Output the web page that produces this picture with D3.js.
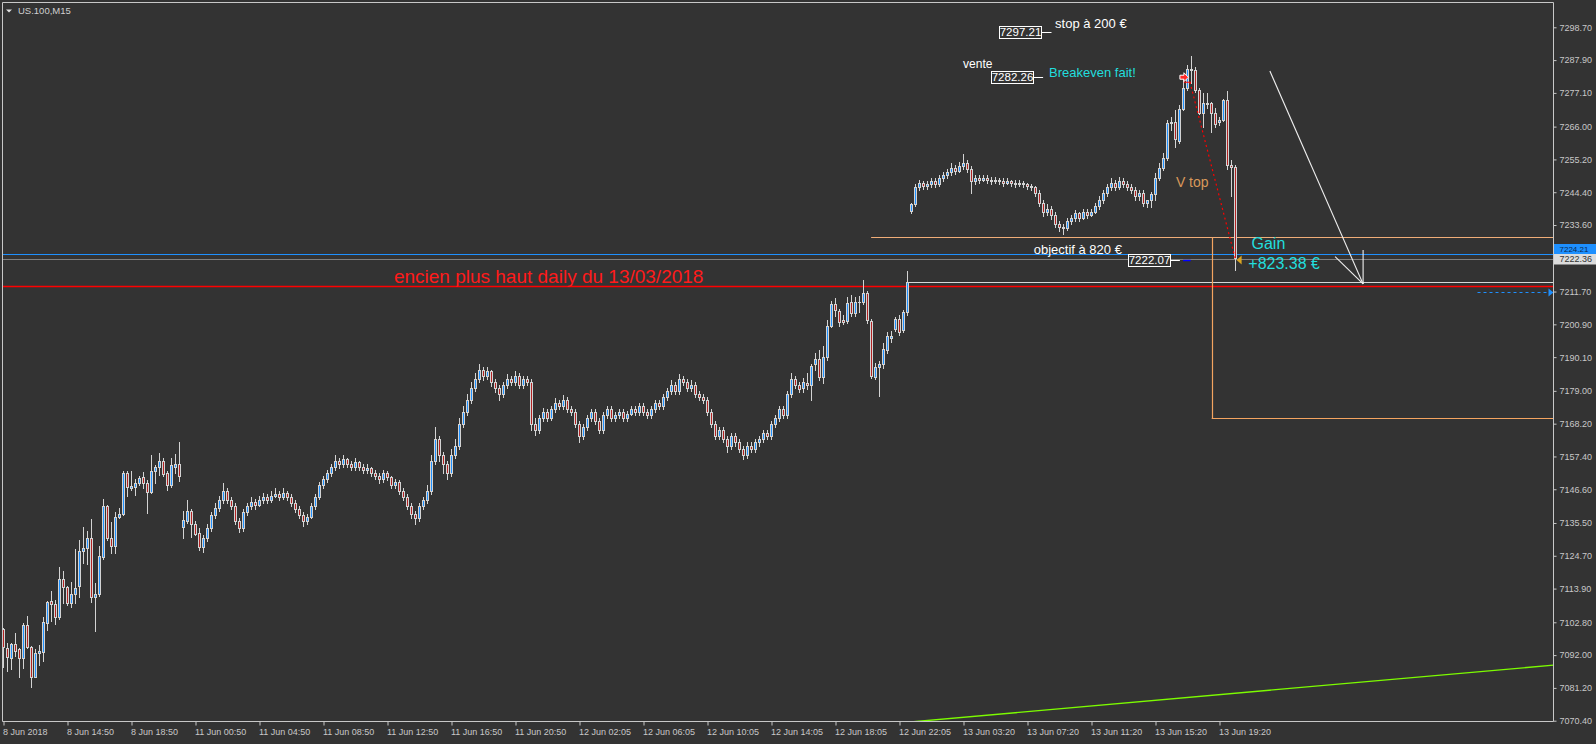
<!DOCTYPE html>
<html><head><meta charset="utf-8">
<script src="https://cdn.jsdelivr.net/npm/d3@7"></script>
<style>html,body{margin:0;padding:0;background:#333333;}svg{display:block;}</style>
</head><body>
<svg id="chart" width="1596" height="744"></svg>
<script>
// ---------------- DATA (US.100, M15 candles) ----------------
const opens = [
7100.5,7094.2,7091.1,7095.6,7093.9,7090.9,7101.8,7094.8,7084.9,7092.8,
7093.1,7102.5,7109.8,7108.8,7104.6,7117.0,7114.3,7109.3,7112.0,7114.8,
7126.4,7127.4,7130.5,7111.2,7112.1,7124.4,7141.1,7130.4,7128.0,7137.4,
7138.4,7151.9,7147.1,7147.5,7148.6,7150.5,7148.6,7145.8,7152.7,7154.0,
7155.9,7151.9,7148.0,7154.0,7154.9,7134.1,7136.0,7139.5,7135.1,7132.1,
7127.7,7130.5,7134,7138,7140.5,7143,7146,7143,7141,7136,
7134,7139,7141,7142.5,7141.5,7143,7144,7143,7144.5,7145,
7144,7145.5,7144,7142,7140,7138,7136,7137.5,7141,7144,
7148,7150,7152,7154,7156,7155,7156.5,7155,7154,7155.5,
7154,7153,7153.5,7152,7151,7150,7152,7150.5,7148,7149,
7146,7144,7141,7138.5,7137,7141,7143,7146,7156,7163,
7158,7155,7152,7158,7161,7168,7172,7176,7180,7183,
7186,7184,7185.5,7182,7180,7178,7181,7183,7182,7184,
7181,7183,7182,7168,7166,7170,7172,7170,7173,7175,
7174,7176,7173,7172,7168,7164,7167,7170,7172,7169,
7166,7171,7173,7170,7171,7172,7170,7171.5,7173,7172,
7174,7172,7171,7173,7175,7174,7177,7179,7181,7179,
7183,7182,7180,7181,7178,7177,7176,7172,7168,7164,
7166,7163,7161,7164,7162,7160,7158,7161,7160,7162,
7163,7165,7164,7168,7170,7173,7171,7178,7183,7181,
7179.9,7181.5,7180.9,7187.8,7189.5,7183.7,7190.1,7200.5,7207.5,7205.4,
7202.3,7202.1,7208.2,7204.5,7208.2,7208.2,7211.1,7202.1,7183.7,7186.8,
7187.8,7192.5,7196.5,7199.3,7202.6,7199.1,7204.9,
7238.2,7240.5,7246,7247.5,7246.5,7247,7248,7247,7249,7250,
7251,7252.5,7251.5,7253,7254,7252,7248,7249,7248.5,7249,
7248.5,7248,7248.5,7248,7247.5,7248,7247.5,7247,7247.5,7247,
7246.5,7246,7244,7241,7238,7239,7237,7234,7233,7232.5,
7235,7236,7237.5,7236,7238,7237,7238,7240,7242,7244,
7246,7247.5,7246,7248,7247,7246,7245,7243,7244,7241,
7241.8,7243.8,7249.0,7252.3,7255.8,7267.3,7267.6,7261.4,7271.7,7278.6,
7285.0,7284.7,7278.1,7270.6,7273.9,7273.7,7270.6,7267.5,7268.2,7274.8,
7253.4,7252.8
];
const highs = [
7101.0,7095.9,7096.1,7099.2,7094.5,7102.7,7104.9,7095.0,7093.9,7095.3,
7104.4,7109.8,7113.1,7110.1,7120.9,7119.7,7114.8,7116.1,7126.8,7129.9,
7134.3,7132.9,7136.8,7115.6,7128.0,7143.3,7141.5,7135.9,7139.0,7140.4,
7152.7,7152.6,7152.6,7150.0,7151.0,7152.2,7149.7,7157.9,7154.6,7158.6,
7156.9,7152.5,7157.0,7158.2,7162.3,7139.5,7143.0,7140.0,7136.0,7134.0,
7131.5,7135,7139,7142,7144.5,7148.6,7147,7144,7142,7137,
7140,7142,7144,7143.5,7144.5,7145.5,7145,7146,7147,7146,
7147,7146,7145,7143,7141,7139,7138.5,7142,7145,7149,
7151,7153,7155,7158,7157,7158,7157,7156,7157,7156,
7155,7155,7154,7153,7152,7153,7152.5,7151,7150,7149.5,
7147,7145,7142,7139.5,7142,7144,7148,7158,7167,7164,
7159,7156,7160,7163,7170,7174,7178,7182,7185,7188,
7187,7187,7186,7183,7181,7182,7184.5,7184,7185.5,7185,
7184,7184,7183,7170,7171,7173.5,7173,7174,7176.5,7176,
7177.5,7177,7174,7173,7169,7168,7171,7173,7173,7170,
7172,7174,7174,7172,7173,7173,7172.5,7174,7174,7175,
7175,7173,7174,7176,7176,7178,7180,7182.5,7182,7184.5,
7184,7183,7182.5,7182,7179,7178,7177,7173,7169,7167,
7167,7164,7165,7165,7163,7161,7162,7162,7163,7164,
7166,7166,7169,7171,7174,7174,7179,7185,7184,7182,
7183.1,7184.8,7187.9,7191.4,7192.5,7193.8,7202.3,7208.5,7209.5,7206,
7204,7210,7210.6,7210,7210.2,7215.5,7211.8,7202.5,7188.3,7188.8,
7194.9,7198.5,7198.8,7203.2,7204,7205.5,7218.5,
7241,7247,7248.5,7248,7248,7249,7249,7250,7251,7252,
7254,7253.5,7254.5,7257,7255,7253,7250,7250,7250,7250,
7249.5,7249.5,7249,7249,7249,7248.5,7248.5,7248.5,7248,7247.5,
7247,7246.5,7245,7242,7240.5,7240,7238,7235,7234,7236,
7237,7238.5,7238,7239,7239,7239,7241,7243,7245,7247,
7249,7248.5,7249.5,7249,7248,7247,7246,7245,7245,7242,
7244.6,7250.6,7253.9,7257.2,7268.2,7269.3,7271.5,7273.1,7283.0,7286.3,
7289.3,7285.7,7278.6,7277.0,7277.0,7274.2,7272.0,7269.3,7275.0,7277.8,
7255.0,7253.5
];
const lows = [
7088.2,7086.9,7087.3,7091.7,7084.9,7087.7,7094.5,7081.6,7084.7,7088.7,
7090.0,7100.3,7103.3,7102.2,7104.0,7109.3,7108.6,7107.7,7109.3,7111.2,
7122.4,7121.9,7109.6,7100.0,7111.5,7123.7,7130.0,7125.7,7125.7,7137.0,
7138.0,7144.5,7146.4,7144.7,7148.0,7146.9,7138.7,7145.5,7148.6,7151.3,
7151.0,7146.5,7147.5,7151.9,7149.4,7130.5,7135.5,7131.0,7131.5,7126.5,
7126,7129.5,7133,7137,7139.5,7142,7142,7140,7135,7132.5,
7133,7138,7140,7140,7141,7142,7142,7142.5,7144,7143,
7143.5,7143,7141,7139,7137,7134.5,7135,7137,7140,7143.5,
7147,7149,7151,7153,7153.5,7154,7154,7153,7153,7153,
7152,7152,7151,7150,7148.5,7149,7149.5,7147,7147,7145,
7143,7140,7137,7135,7136,7140,7142,7145,7155,7156,
7152,7150,7151,7157,7160,7167,7171,7175,7179,7182,
7182.5,7183,7180.5,7178.5,7176,7177,7180,7181,7181,7180,
7180,7181,7166,7164.5,7165,7169,7169,7169.5,7172,7173,
7173,7172,7171,7167,7162,7163,7166,7169,7168,7165,
7165,7170,7169,7169,7170,7169,7169,7171,7171,7171,
7171,7170,7170,7172,7173,7173,7176,7178,7178,7178,
7181,7179,7179,7177,7176,7175,7171,7167,7163,7163,
7162,7159,7160,7161,7159,7156.5,7157,7159,7159,7161,
7162,7163,7163,7167,7169,7170,7170,7177,7180,7178.5,
7178.5,7179.5,7176,7185.9,7182.6,7181.5,7189.3,7200,7203.5,7200.5,
7201,7201.5,7203.5,7203.5,7204.9,7207.5,7201.5,7183.1,7182.8,7177.3,
7186.5,7191.5,7195.2,7198.8,7197.5,7198.5,7204,
7237.5,7240,7245,7245.5,7245.5,7246,7246,7246.5,7248,7249,
7250,7250.5,7251,7252,7251,7244,7247,7247.5,7248,7247.5,
7247,7247.5,7247,7246.5,7247,7246.5,7246,7246.5,7246,7245.5,
7245,7243,7240,7236.5,7237,7235.5,7233,7231.5,7230.5,7232,
7234,7235,7235,7235.5,7236,7236.5,7237.5,7239,7241,7243,
7245,7245,7245.5,7246,7245,7244,7242,7242,7240,7239.5,
7239.6,7241.8,7248.4,7251.7,7255.0,7264.9,7259.2,7260.5,7271.5,7278.0,
7280.3,7277.5,7270.0,7266.0,7272.0,7264.3,7266.0,7266.5,7268.0,7252.0,
7243.0,7218.8
];
const closes = [
7094.6,7091.5,7095.6,7093.4,7091.1,7101.8,7094.8,7084.7,7092.6,7093.4,
7102.8,7109.5,7108.8,7104.6,7117.0,7114.3,7109.3,7112.0,7114.0,7126.3,
7127.4,7130.5,7111.2,7112.0,7124.6,7141.1,7130.4,7128.0,7137.4,7138.4,
7151.9,7147.3,7147.7,7148.6,7150.2,7148.6,7145.6,7152.6,7153.8,7155.9,
7151.6,7148.0,7154.6,7154.9,7151.0,7136.5,7139.5,7135.2,7131.8,7127.7,
7130.5,7134,7138,7140.5,7143,7146,7143,7141,7136,7134,
7139,7141,7142.5,7141.5,7143,7144,7143,7144.5,7145,7144,
7145.5,7144,7142,7140,7138,7136,7137.5,7141,7144,7148,
7150,7152,7154,7156,7155,7156.5,7155,7154,7155.5,7154,
7153,7153.5,7152,7151,7150,7152,7150.5,7148,7149,7146,
7144,7141,7138.5,7137,7141,7143,7146,7156,7163,7158,
7155,7152,7158,7161,7168,7172,7176,7180,7183,7186,
7184,7185.5,7182,7180,7178,7181,7183,7182,7184,7181,
7183,7182,7168,7166,7170,7172,7170,7173,7175,7174,
7176,7173,7172,7168,7164,7167,7170,7172,7169,7166,
7171,7173,7170,7171,7172,7170,7171.5,7173,7172,7174,
7172,7171,7173,7175,7174,7177,7179,7181,7179,7183,
7182,7180,7181,7178,7177,7176,7172,7168,7164,7166,
7163,7161,7164,7162,7160,7158,7161,7160,7162,7163,
7165,7164,7168,7170,7173,7171,7178,7183,7181,7179.5,
7181.8,7180.9,7187.3,7189.5,7183.7,7190.1,7200.5,7207.5,7205.6,7201.8,
7201.8,7207.8,7204.5,7208.2,7208.4,7211.1,7202.3,7183.9,7187.0,7187.8,
7192.8,7197.1,7197.1,7202.6,7198.5,7204.9,7214.8,
7240.5,7246,7247.5,7246.5,7247,7248,7247,7249,7250,7251,
7252.5,7251.5,7253,7254,7252,7248,7249,7248.5,7249,7248.5,
7248,7248.5,7248,7247.5,7248,7247.5,7247,7247.5,7247,7246.5,
7246,7244,7241,7238,7239,7237,7234,7233,7232.5,7235,
7236,7237.5,7236,7238,7237,7238,7240,7242,7244,7246,
7247.5,7246,7248,7247,7246,7245,7243,7244,7241,7241.8,
7243.8,7249.0,7252.3,7255.8,7267.1,7267.6,7261.8,7271.7,7278.6,7285.0,
7284.5,7278.1,7270.6,7273.9,7273.5,7270.4,7266.9,7268.2,7274.8,7253.4,
7252.8,7222.7
];

const yTickValues = [7298.70,7287.90,7277.10,7266.00,7255.20,7244.40,7233.60,7211.70,7200.90,7190.10,
  7179.00,7168.20,7157.40,7146.60,7135.50,7124.70,7113.90,7102.80,7092.00,7081.20,7070.40];
const xTickIndex = [0,16,32,48,64,80,96,112,128,144,160,176,192,208,224,240,256,272,288,304];
const xTickLabels = ["8 Jun 2018","8 Jun 14:50","8 Jun 18:50","11 Jun 00:50","11 Jun 04:50","11 Jun 08:50",
  "11 Jun 12:50","11 Jun 16:50","11 Jun 20:50","12 Jun 02:05","12 Jun 06:05","12 Jun 10:05","12 Jun 14:05",
  "12 Jun 18:05","12 Jun 22:05","13 Jun 03:20","13 Jun 07:20","13 Jun 11:20","13 Jun 15:20","13 Jun 19:20"];

// horizontal levels (price) and their start bar
const levelPrices = [7224.21, 7222.36, 7213.5, 7214.75, 7229.7, 7170.0];
const levelNames  = ["blue","gray","red","white","orangeTop","orangeBottom"];
const levelStart  = [0, 0, 0, 226, 216.9, 302.05];
const axisTags = [{text:"7224.21", price:7224.21, kind:"blue"},{text:"7222.36", price:7222.36, kind:"gray"}];
const greenLine = [[226.1, 7069.9],[387.5, 7088.7]];
const whiteArrow = [[[316.6,7284.3],[339.9,7214.2]],[[332.9,7223.2],[339.9,7214.2]],[[339.9,7225.4],[339.9,7214.2]]];
const redDotted = [[296.6,7280.7],[307.9,7222.75]];
const blueDash = {from:368.5, price:7211.5};
const priceBoxes = [
  {text:"7297.21", price:7297.21, i0:248.9, i1:259.5, tail:262.0},
  {text:"7282.26", price:7282.26, i0:246.9, i1:257.4, tail:259.9},
  {text:"7222.07", price:7222.07, i0:281.0, i1:291.5, tail:294.1}
];
const notes = [
  {text:"stop à 200 €", i:262.9, price:7298.4, color:"#ffffff", size:13, anchor:"start"},
  {text:"vente", i:239.9, price:7285.4, color:"#ffffff", size:12, anchor:"start"},
  {text:"Breakeven fait!", i:261.4, price:7282.3, color:"#22dede", size:13, anchor:"start"},
  {text:"V top", i:293.1, price:7246.2, color:"#d9985a", size:14, anchor:"start"},
  {text:"objectif à 820 €", i:279.6, price:7224.2, color:"#ffffff", size:13, anchor:"end"},
  {text:"Gain", i:312.0, price:7225.6, color:"#22dede", size:16, anchor:"start"},
  {text:"+823.38 €", i:311.2, price:7219.0, color:"#22dede", size:16, anchor:"start"},
  {text:"encien plus haut daily du 13/03/2018", i:97.6, price:7214.4, color:"#ff1a1a", size:19, anchor:"start"}
];
const sellMark = {i:295.1, price:7282.26};
const closeMark = {i:308.9, price:7222.1};

// ---------------- DRAWING ----------------
const svg = d3.select("#chart");
const L = 2.5, R = 1553.5, T = 2.5, B = 721.5;
const FONT = "'Liberation Sans', Arial, sans-serif";
const y = d3.scaleLinear().domain([7070.4, 7298.7]).range([720.7, 27.3]);
const x = d3.scaleLinear().domain([0, 387]).range([3.5, 3.5 + 4 * 387]);

svg.append("rect").attr("width",1596).attr("height",744).attr("fill","#333333");
svg.append("defs").append("clipPath").attr("id","plot")
  .append("rect").attr("x",L).attr("y",T).attr("width",R-L).attr("height",B-T);
const plot = svg.append("g").attr("clip-path","url(#plot)");

// level lines
const levColor = {blue:"#1e90ff", gray:"#808080", red:"#ff0000", white:"#d8d8d8", orangeTop:"#f0ad78", orangeBottom:"#f4a460"};
const levWidth = {blue:1, gray:1, red:1.6, white:1.2, orangeTop:1, orangeBottom:1.2};
levelPrices.forEach((p,k)=>{
  const yy = Math.round(y(p)) + 0.5;
  plot.append("line").attr("x1", levelStart[k] === 0 ? L : x(levelStart[k])).attr("x2", R)
    .attr("y1", yy).attr("y2", yy)
    .attr("stroke", levColor[levelNames[k]]).attr("stroke-width", levWidth[levelNames[k]]);
});
// orange vertical edge of the target box
plot.append("line").attr("x1", Math.round(x(302.05))+0.5).attr("x2", Math.round(x(302.05))+0.5)
  .attr("y1", Math.round(y(7229.7))+0.5).attr("y2", Math.round(y(7170.0))+0.5)
  .attr("stroke","#f4a460").attr("stroke-width",1.2);

// green trend line
plot.append("line").attr("x1",x(greenLine[0][0])).attr("y1",y(greenLine[0][1]))
  .attr("x2",x(greenLine[1][0])).attr("y2",y(greenLine[1][1]))
  .attr("stroke","#7cfc00").attr("stroke-width",1.3);

// candles
const N = closes.length;
const cg = plot.append("g");
for (let i = 0; i < N; i++) {
  const o = opens[i], h = highs[i], l = lows[i], c = closes[i];
  const cx = Math.floor(x(i));
  const yh = Math.round(y(h)), yl = Math.round(y(l));
  cg.append("rect").attr("x", cx).attr("y", yh).attr("width", 1).attr("height", Math.max(1, yl - yh + 1)).attr("fill", "#d3d3d3");
  const top = Math.round(y(Math.max(o,c))), bot = Math.round(y(Math.min(o,c)));
  cg.append("rect").attr("x", cx-1).attr("y", top).attr("width", 3).attr("height", Math.max(1, bot-top+1)).attr("fill", "#d3d3d3");
  if (bot - top >= 2) {
    cg.append("rect").attr("x", cx).attr("y", top+1).attr("width", 1).attr("height", bot-top-1)
      .attr("fill", c >= o ? "#1e90ff" : "#b22222");
  }
}

// white arrow lines
whiteArrow.forEach(s=>{
  plot.append("line").attr("x1",x(s[0][0])).attr("y1",y(s[0][1])).attr("x2",x(s[1][0])).attr("y2",y(s[1][1]))
    .attr("stroke","#f0f0f0").attr("stroke-width",1.1);
});
// red dotted line
plot.append("line").attr("x1",x(redDotted[0][0])).attr("y1",y(redDotted[0][1]))
  .attr("x2",x(redDotted[1][0])).attr("y2",y(redDotted[1][1]))
  .attr("stroke","#ff0000").attr("stroke-width",1.2).attr("stroke-dasharray","2,3");

// blue dashed arrow
{
  const yy = Math.round(y(blueDash.price)) + 0.5;
  plot.append("line").attr("x1",x(blueDash.from)).attr("x2",R-5).attr("y1",yy).attr("y2",yy)
    .attr("stroke","#1e90ff").attr("stroke-width",1).attr("stroke-dasharray","3,3");
  plot.append("path").attr("d",`M${R-5},${yy-4}L${R},${yy}L${R-5},${yy+4}Z`).attr("fill","#1e90ff");
}

// price boxes
priceBoxes.forEach(b=>{
  const yc = y(b.price);
  const x0 = Math.round(x(b.i0))+0.5, x1 = Math.round(x(b.i1))+0.5;
  const yy0 = Math.round(yc-6)+0.5, yy1 = Math.round(yc+6)+0.5;
  plot.append("line").attr("x1",x1).attr("x2",x(b.tail)).attr("y1",Math.round(yc)+0.5).attr("y2",Math.round(yc)+0.5)
    .attr("stroke","#ffffff").attr("stroke-width",1);
  plot.append("rect").attr("x",x0).attr("y",yy0).attr("width",x1-x0).attr("height",yy1-yy0)
    .attr("fill","#333333").attr("stroke","#ffffff").attr("stroke-width",1);
  plot.append("text").attr("x",(x0+x1)/2).attr("y",yc+4.2).attr("text-anchor","middle")
    .attr("font-family",FONT).attr("font-size",11.5).attr("fill","#ffffff").text(b.text);
});
// small blue tick next to the 7222.07 box
plot.append("line").attr("x1",x(294.9)).attr("x2",x(296.8)).attr("y1",Math.round(y(7222.07))+0.5).attr("y2",Math.round(y(7222.07))+0.5)
  .attr("stroke","#0000ff").attr("stroke-width",1.5);

// sell arrow marker
{
  const mx = x(sellMark.i), my = y(sellMark.price);
  plot.append("path").attr("d",`M${mx-4},${my-2}L${mx},${my-2}L${mx},${my-4.5}L${mx+4.5},${my}L${mx},${my+4.5}L${mx},${my+2}L${mx-4},${my+2}Z`)
    .attr("fill","#ff2a2a").attr("stroke","#ffffff").attr("stroke-width",1);
  plot.append("line").attr("x1",mx).attr("x2",mx+7).attr("y1",my+5).attr("y2",my+5).attr("stroke","#ff0000").attr("stroke-width",1);
}
// close marker (golden triangle)
{
  const mx = x(closeMark.i), my = y(closeMark.price);
  plot.append("path").attr("d",`M${mx-2.5},${my}L${mx+2.5},${my-4.5}L${mx+2.5},${my+4.5}Z`).attr("fill","#daa520");
}

// text notes
notes.forEach(n=>{
  plot.append("text").attr("x",x(n.i)).attr("y",y(n.price)).attr("text-anchor",n.anchor)
    .attr("font-family",FONT).attr("font-size",n.size).attr("fill",n.color).text(n.text);
});

// frame
svg.append("path").attr("d",`M${L},${T}H${R}V${B}H${L}Z`).attr("fill","none").attr("stroke","#c8c8c8").attr("stroke-width",1);

// y axis
const yAxis = d3.axisRight(y).tickValues(yTickValues).tickFormat(d=>d.toFixed(2)).tickSize(3).tickPadding(3);
const gy = svg.append("g").attr("transform",`translate(${R},0)`).call(yAxis);
gy.select(".domain").remove();
gy.selectAll("line").attr("stroke","#c8c8c8");
gy.selectAll("text").attr("fill","#c8c8c8").attr("font-family",FONT).attr("font-size",9);

// x axis
const xAxis = d3.axisBottom(x).tickValues(xTickIndex).tickFormat((d,i)=>xTickLabels[i]).tickSize(4).tickPadding(3);
const gx = svg.append("g").attr("transform",`translate(0,${B})`).call(xAxis);
gx.select(".domain").remove();
gx.selectAll("line").attr("stroke","#c8c8c8");
gx.selectAll("text").attr("fill","#c8c8c8").attr("font-family",FONT).attr("font-size",9).attr("text-anchor","start").attr("dx",-1);

// axis price tags (blue one sits just above the gray one, partly hidden like in MT4)
axisTags.forEach(t=>{
  const yc = y(t.price);
  const isBlue = t.kind === "blue";
  const top = isBlue ? Math.round(yc) - 10 : Math.round(yc) - 5;
  svg.append("rect").attr("x",R+0.5).attr("y",top).attr("width",1596-R).attr("height",isBlue ? 10 : 10.5)
    .attr("fill", isBlue ? "#1e90ff" : "#dcdcdc");
  svg.append("text").attr("x",R+6).attr("y",top+8).attr("font-family",FONT).attr("font-size",isBlue ? 8 : 9)
    .attr("fill", isBlue ? "#0a2a50" : "#333333").text(t.text);
});

// title
svg.append("path").attr("d","M6,9.5L12,9.5L9,12.5Z").attr("fill","#e0e0e0");
svg.append("text").attr("x",18).attr("y",14).attr("font-family",FONT).attr("font-size",9.5).attr("fill","#d0d0d0").text("US.100,M15");
</script>
</body></html>
